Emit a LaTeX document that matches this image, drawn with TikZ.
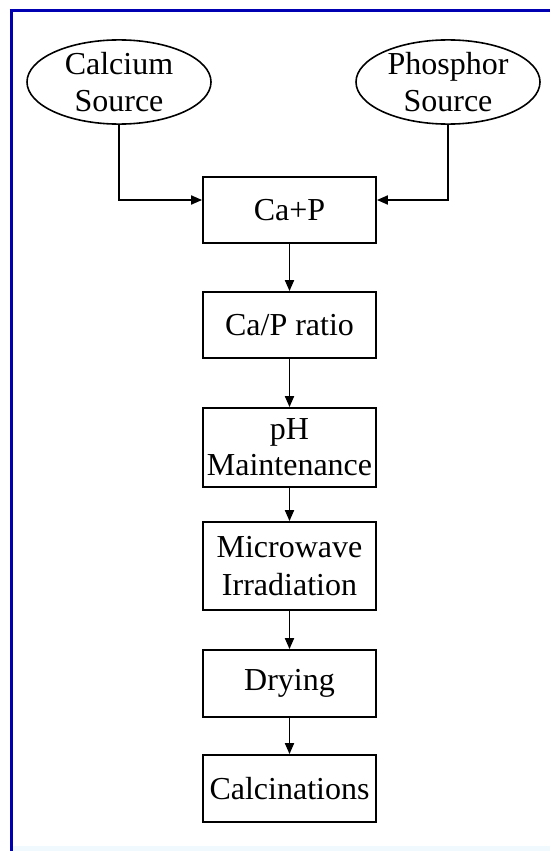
\documentclass[tikz,border=0pt]{standalone}
\usepackage{fontspec}
\setmainfont{Liberation Serif}
\usetikzlibrary{arrows.meta,shapes.geometric}
\begin{document}
\begin{tikzpicture}[x=1pt,y=-1pt,
  every node/.style={font=\fontsize{32}{37}\selectfont},
  source/.style={draw, line width=1.6pt, ellipse, minimum width=184pt, minimum height=78pt, inner sep=0pt, align=center},
  stepbox/.style={draw, line width=1.8pt, rectangle, minimum width=173pt, inner sep=0pt, align=center},
  arr/.style={line width=1.8pt, -{Triangle[length=11pt,width=9pt]}}]
  \useasboundingbox (0,0) rectangle (550,851);
  % page frame
  \fill[white] (0,0) rectangle (550,851);
  \fill[cyan!6] (12,846) rectangle (550,851);
  \draw[line width=3pt, blue!70!black] (11,851) -- (11,10.5);
  \draw[line width=2.2pt, blue!70!black] (9.5,10.5) -- (550,10.5);
  % sources
  \node[source] (cal) at (119,82) {Calcium\\Source};
  \node[source] (pho) at (448,82) {Phosphor\\Source};
  % process steps
  \node[stepbox, minimum height=66pt] (mix) at (289.5,210) {Ca+P};
  \node[stepbox, minimum height=66pt] (ratio) at (289.5,325) {Ca/P ratio};
  \node[stepbox, minimum height=79pt, font=\fontsize{32}{36}\selectfont] (ph) at (289.5,447.5) {pH\\Maintenance};
  \node[stepbox, minimum height=88pt, font=\fontsize{32}{38}\selectfont] (mw) at (289.5,566) {Microwave\\Irradiation};
  \node[stepbox, minimum height=67pt] (dry) at (289.5,683.5) {Drying};
  \node[stepbox, minimum height=67pt] (calc) at (289.5,788.5) {Calcinations};
  % connectors
  \draw[arr] (cal.south) |- ([yshift=10pt]mix.west);
  \draw[arr] (pho.south) |- ([yshift=10pt]mix.east);
  \draw[arr] (mix) -- (ratio);
  \draw[arr] (ratio) -- (ph);
  \draw[arr] (ph) -- (mw);
  \draw[arr] (mw) -- (dry);
  \draw[arr] (dry) -- (calc);
\end{tikzpicture}
\end{document}
